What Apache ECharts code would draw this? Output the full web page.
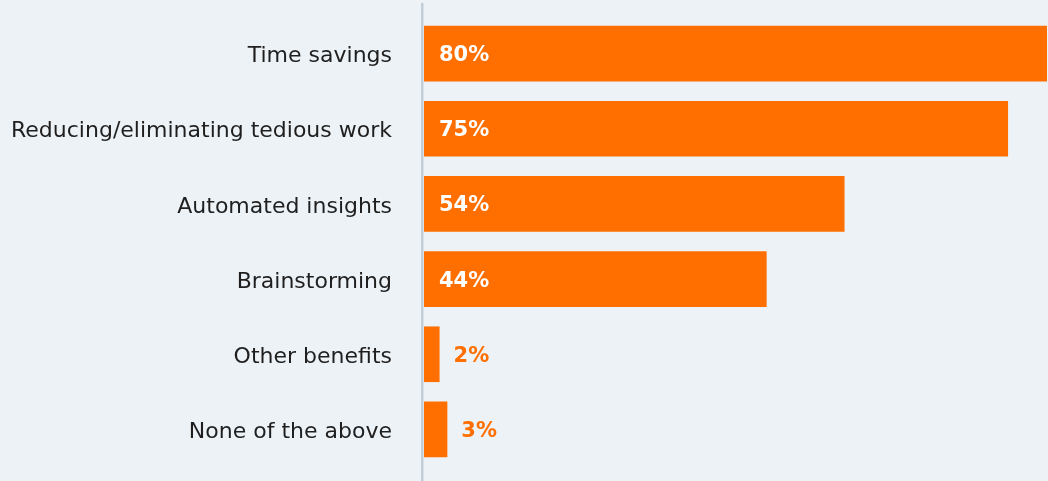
<!DOCTYPE html>
<html>
<head>
<meta charset="utf-8">
<script src="https://cdn.jsdelivr.net/npm/echarts@6/dist/echarts.min.js"></script>
<style>
  html, body { margin: 0; padding: 0; background: #edf2f6; }
  #chart { width: 1048px; height: 481px; }
</style>
</head>
<body>
<div id="chart"></div>
<script>
// Benefits reported, share of respondents (%)
const categories = [
  'Time savings',
  'Reducing/eliminating tedious work',
  'Automated insights',
  'Brainstorming',
  'Other benefits',
  'None of the above'
];
const values = [80, 75, 54, 44, 2, 3];

const ORANGE = '#ff6f00';
const INSIDE_MIN = 10; // bars at or above this width carry their label inside

const chart = echarts.init(document.getElementById('chart'));

chart.setOption({
  backgroundColor: '#edf2f6',
  animation: false,
  grid: { left: 424, right: 1, top: 16, bottom: 14, containLabel: false },
  xAxis: {
    type: 'value', min: 0, max: 80,
    show: false
  },
  yAxis: {
    type: 'category',
    data: categories,
    inverse: true,
    axisLine: { show: false },
    axisTick: { show: false },
    axisLabel: {
      margin: 32,
      formatter: '{cat|{value}}',
      rich: {
        cat: {
          fontFamily: 'DejaVu Sans',
          fontSize: 22,
          color: '#1f1f1f',
          padding: [6, 0, 0, 0]
        }
      }
    }
  },
  graphic: [{
    type: 'rect',
    shape: { x: 421, y: 3, width: 2.5, height: 478 },
    style: { fill: '#c2ced7' },
    z: 10
  }],
  series: [{
    type: 'bar',
    barWidth: '74%',
    data: values.map(v => ({
      value: v,
      label: v >= INSIDE_MIN
        ? { position: 'insideLeft', distance: 15, color: '#ffffff' }
        : { position: 'right', distance: 14, color: ORANGE }
    })),
    itemStyle: { color: ORANGE },
    label: {
      show: true,
      formatter: '{c}%',
      fontFamily: 'DejaVu Sans',
      fontWeight: 'bold',
      fontSize: 21,
      offset: [0, 2]
    }
  }]
});
</script>
</body>
</html>
